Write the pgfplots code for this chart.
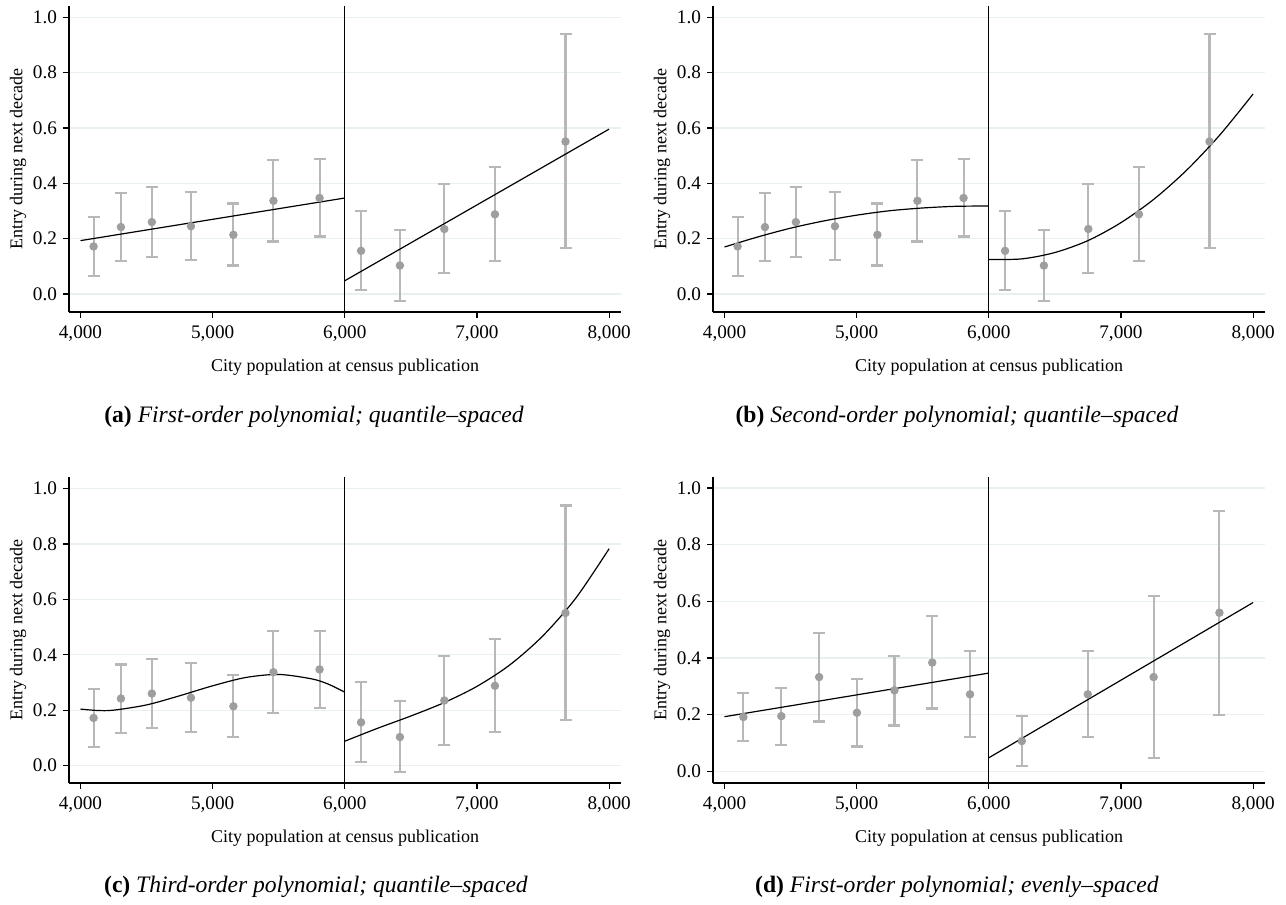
\documentclass[border=0pt]{standalone}
\usepackage{fontspec}
\setmainfont{Liberation Serif}
\usepackage{pgfplots}
\usepackage{pgfplotstable}
\pgfplotsset{compat=1.18}
\definecolor{gridc}{RGB}{232,240,242}
\definecolor{barc}{RGB}{184,184,184}
\definecolor{markc}{RGB}{158,158,158}

\pgfplotstableread{
x y lo hi
4099 0.172 0.066 0.277
4306 0.242 0.118 0.365
4540 0.260 0.135 0.386
4836 0.245 0.122 0.369
5157 0.214 0.103 0.327
5460 0.337 0.190 0.485
5809 0.347 0.208 0.487
6123 0.156 0.013 0.301
6417 0.103 -0.024 0.232
6753 0.235 0.075 0.397
7136 0.288 0.120 0.458
7670 0.551 0.165 0.939
}\dataQ

\pgfplotstableread{
x y lo hi
4143 0.192 0.106 0.276
4430 0.195 0.094 0.294
4716 0.333 0.176 0.487
5002 0.207 0.088 0.327
5286 0.286 0.162 0.407
5572 0.384 0.222 0.547
5858 0.272 0.121 0.424
6250 0.107 0.019 0.195
6749 0.272 0.121 0.424
7247 0.333 0.047 0.619
7745 0.560 0.200 0.918
}\dataE

\pgfplotsset{rdd/.style={
  scale only axis, width=276pt, height=153pt,
  xmin=3913, xmax=8090,
  axis x line*=bottom, axis y line*=left,
  axis line style={-, line width=0.6pt},
  xtick={4000,5000,6000,7000,8000},
  xticklabels={4{,}000,5{,}000,6{,}000,7{,}000,8{,}000},
  ytick={0,0.2,0.4,0.6,0.8,1.0},
  yticklabels={0.0,0.2,0.4,0.6,0.8,1.0},
  tick align=outside, major tick length=3pt,
  tick style={black, line width=0.6pt},
  ymajorgrids, grid style={gridc, line width=0.6pt},
  ticklabel style={font=\fontsize{9.6}{11}\selectfont},
  xticklabel style={yshift=-0.5pt},
  yticklabel style={xshift=0.5pt},
  xlabel={City population at census publication},
  ylabel={Entry during next decade},
  label style={font=\fontsize{9}{11}\selectfont},
  xlabel style={at={([yshift=-27.5pt]axis description cs:0.5,0)}, anchor=center},
  ylabel style={at={([xshift=-25.5pt]axis description cs:0,0.5)}, anchor=center},
  clip=false,
}}
\pgfplotsset{pts/.style={
  only marks, mark=*, mark size=1.9pt,
  mark options={fill=markc, draw=markc},
  error bars/.cd, y dir=both, y explicit,
  error bar style={barc, line width=1.05pt},
  error mark options={barc, line width=1.05pt, mark size=3pt, rotate=90},
}}
\pgfplotsset{fit/.style={black, line width=0.6pt, no marks}}

\begin{document}
\begin{tikzpicture}
\path[use as bounding box] (0,0) rectangle (643pt,-452.5pt);

% (a)
\begin{axis}[rdd, at={(34.5pt,-156pt)}, anchor=south west, ymin=-0.065, ymax=1.041]
\addplot+[pts] table[x=x, y=y, y error plus expr=\thisrow{hi}-\thisrow{y}, y error minus expr=\thisrow{y}-\thisrow{lo}] {\dataQ};
\addplot[black, line width=0.6pt] coordinates {(6000,-0.065) (6000,1.041)};
\addplot[fit] coordinates {(4000,0.193) (6000,0.347)};
\addplot[fit] coordinates {(6000,0.048) (8000,0.596)};
\end{axis}

% (b)
\begin{axis}[rdd, at={(356.5pt,-156pt)}, anchor=south west, ymin=-0.065, ymax=1.041]
\addplot+[pts] table[x=x, y=y, y error plus expr=\thisrow{hi}-\thisrow{y}, y error minus expr=\thisrow{y}-\thisrow{lo}] {\dataQ};
\addplot[black, line width=0.6pt] coordinates {(6000,-0.065) (6000,1.041)};
\addplot[fit, smooth] coordinates {(4000,0.170) (4250,0.206) (4500,0.238) (4750,0.264) (5000,0.285) (5250,0.301) (5500,0.311) (5750,0.317) (6000,0.318)};
\addplot[fit, smooth] coordinates {(6000,0.125) (6250,0.127) (6500,0.150) (6750,0.193) (7000,0.258) (7250,0.343) (7500,0.449) (7750,0.576) (8000,0.723)};
\end{axis}

% (c)
\begin{axis}[rdd, at={(34.5pt,-391.5pt)}, anchor=south west, ymin=-0.063, ymax=1.042]
\addplot+[pts] table[x=x, y=y, y error plus expr=\thisrow{hi}-\thisrow{y}, y error minus expr=\thisrow{y}-\thisrow{lo}] {\dataQ};
\addplot[black, line width=0.6pt] coordinates {(6000,-0.063) (6000,1.042)};
\addplot[fit, smooth] coordinates {(4000,0.204) (4125,0.199) (4250,0.200) (4500,0.219) (4750,0.252) (5000,0.288) (5250,0.318) (5500,0.329) (5750,0.313) (5875,0.294) (6000,0.265)};
\addplot[fit, smooth] coordinates {(6000,0.088) (6250,0.135) (6500,0.179) (6750,0.227) (7000,0.286) (7250,0.364) (7500,0.469) (7750,0.606) (8000,0.783)};
\end{axis}

% (d)
\begin{axis}[rdd, at={(356.5pt,-391.5pt)}, anchor=south west, ymin=-0.041, ymax=1.039]
\addplot+[pts] table[x=x, y=y, y error plus expr=\thisrow{hi}-\thisrow{y}, y error minus expr=\thisrow{y}-\thisrow{lo}] {\dataE};
\addplot[black, line width=0.6pt] coordinates {(6000,-0.041) (6000,1.039)};
\addplot[fit] coordinates {(4000,0.193) (6000,0.347)};
\addplot[fit] coordinates {(6000,0.048) (8000,0.596)};
\end{axis}

\node[font=\fontsize{11.8}{13}\selectfont] at (157pt,-208.5pt) {\textbf{(a)} \textit{First-order polynomial; quantile–spaced}};
\node[font=\fontsize{11.8}{13}\selectfont] at (478.5pt,-208.5pt) {\textbf{(b)} \textit{Second-order polynomial; quantile–spaced}};
\node[font=\fontsize{11.8}{13}\selectfont] at (158pt,-443.5pt) {\textbf{(c)} \textit{Third-order polynomial; quantile–spaced}};
\node[font=\fontsize{11.8}{13}\selectfont] at (478.5pt,-443.5pt) {\textbf{(d)} \textit{First-order polynomial; evenly–spaced}};
\end{tikzpicture}
\end{document}
